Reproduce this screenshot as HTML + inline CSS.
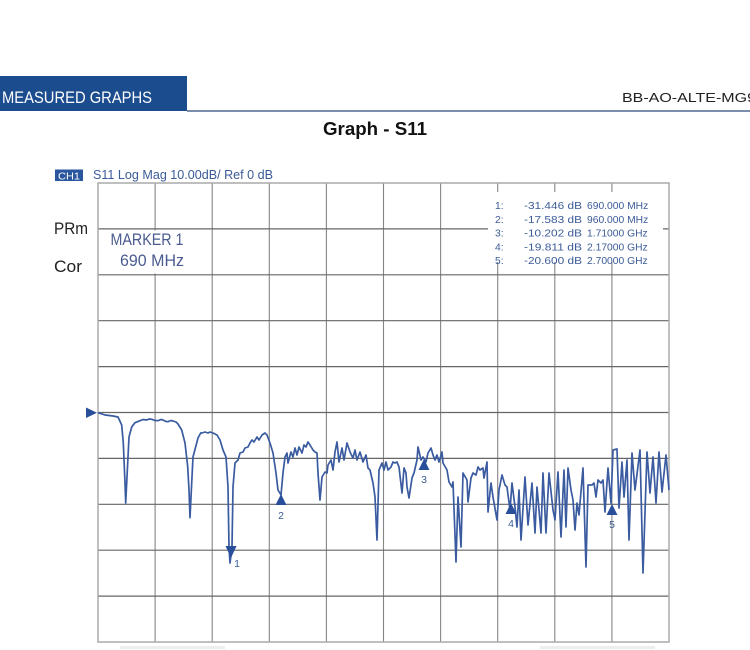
<!DOCTYPE html>
<html>
<head>
<meta charset="utf-8">
<style>
  html,body{margin:0;padding:0;background:#fff;}
  body{width:750px;height:650px;overflow:hidden;}
  svg{display:block;}
  text{font-family:"Liberation Sans",sans-serif;}
</style>
</head>
<body>
<svg width="750" height="650" viewBox="0 0 750 650" xmlns="http://www.w3.org/2000/svg">
  <rect x="0" y="0" width="750" height="650" fill="#fff"/>

  <!-- Header -->
  <rect x="0" y="76" width="187" height="35" fill="#1b4d8e"/>
  <line x1="187" y1="111" x2="750" y2="111" stroke="#2c4a7e" stroke-width="1.2"/>
  <text x="2" y="103" font-size="17" fill="#fff" textLength="150" lengthAdjust="spacingAndGlyphs">MEASURED GRAPHS</text>
  <text x="622" y="102" font-size="13" fill="#222" textLength="134" lengthAdjust="spacingAndGlyphs">BB-AO-ALTE-MG9</text>

  <!-- Title -->
  <text x="375" y="135" font-size="18" font-weight="bold" fill="#111" text-anchor="middle" textLength="104" lengthAdjust="spacingAndGlyphs">Graph - S11</text>

  <!-- CH1 label -->
  <rect x="55" y="169.5" width="28" height="11.5" fill="#2a56a0"/>
  <text x="69" y="179.3" font-size="10.5" fill="#fff" text-anchor="middle" textLength="22" lengthAdjust="spacingAndGlyphs">CH1</text>
  <text x="93" y="179" font-size="12.5" fill="#3b5b98" textLength="180" lengthAdjust="spacingAndGlyphs">S11 Log Mag 10.00dB/ Ref 0 dB</text>

  <!-- Grid -->
  <g stroke="#858585" stroke-width="1.1">
    <line x1="155.1" y1="183" x2="155.1" y2="642"/>
    <line x1="212.2" y1="183" x2="212.2" y2="642"/>
    <line x1="269.3" y1="183" x2="269.3" y2="642"/>
    <line x1="326.4" y1="183" x2="326.4" y2="642"/>
    <line x1="383.5" y1="183" x2="383.5" y2="642"/>
    <line x1="440.6" y1="183" x2="440.6" y2="642"/>
    <line x1="497.7" y1="183" x2="497.7" y2="642"/>
    <line x1="554.8" y1="183" x2="554.8" y2="642"/>
    <line x1="611.9" y1="183" x2="611.9" y2="642"/>
  </g>
  <g stroke="#666" stroke-width="1.2">
    <line x1="98" y1="228.9" x2="669" y2="228.9"/>
    <line x1="98" y1="274.8" x2="669" y2="274.8"/>
    <line x1="98" y1="320.7" x2="669" y2="320.7"/>
    <line x1="98" y1="366.6" x2="669" y2="366.6"/>
    <line x1="98" y1="412.5" x2="669" y2="412.5"/>
    <line x1="98" y1="458.4" x2="669" y2="458.4"/>
    <line x1="98" y1="504.3" x2="669" y2="504.3"/>
    <line x1="98" y1="550.2" x2="669" y2="550.2"/>
    <line x1="98" y1="596.1" x2="669" y2="596.1"/>
  </g>
  <rect x="98" y="183" width="571" height="459" fill="none" stroke="#aaaaaa" stroke-width="1.5"/>

  <!-- White boxes covering grid -->
  <rect x="100" y="230.5" width="98" height="43" fill="#fff"/>
  <rect x="488" y="192" width="175" height="70" fill="#fff"/>

  <!-- Left labels -->
  <text x="54" y="234" font-size="17" fill="#222" textLength="34" lengthAdjust="spacingAndGlyphs">PRm</text>
  <text x="54" y="272" font-size="17" fill="#222" textLength="28" lengthAdjust="spacingAndGlyphs">Cor</text>

  <!-- Marker 1 label -->
  <text x="110.5" y="245" font-size="16.5" fill="#4a5b8f" textLength="73" lengthAdjust="spacingAndGlyphs">MARKER 1</text>
  <text x="120" y="266" font-size="16.5" fill="#4a5b8f" textLength="64" lengthAdjust="spacingAndGlyphs">690 MHz</text>

  <!-- Marker table -->
  <g font-size="10.3" fill="#3b5b98">
    <text x="495" y="209">1:</text>
    <text x="524" y="209" textLength="58" lengthAdjust="spacingAndGlyphs">-31.446 dB</text>
    <text x="587" y="209">690.000 MHz</text>
    <text x="495" y="222.8">2:</text>
    <text x="524" y="222.8" textLength="58" lengthAdjust="spacingAndGlyphs">-17.583 dB</text>
    <text x="587" y="222.8">960.000 MHz</text>
    <text x="495" y="236.6">3:</text>
    <text x="524" y="236.6" textLength="58" lengthAdjust="spacingAndGlyphs">-10.202 dB</text>
    <text x="587" y="236.6">1.71000 GHz</text>
    <text x="495" y="250.4">4:</text>
    <text x="524" y="250.4" textLength="58" lengthAdjust="spacingAndGlyphs">-19.811 dB</text>
    <text x="587" y="250.4">2.17000 GHz</text>
    <text x="495" y="264.2">5:</text>
    <text x="524" y="264.2" textLength="58" lengthAdjust="spacingAndGlyphs">-20.600 dB</text>
    <text x="587" y="264.2">2.70000 GHz</text>
  </g>

  <!-- Reference triangle -->
  <polygon points="86,407.5 86,418 97,412.7" fill="#2a4f9a"/>

  <!-- Trace -->
  <polyline fill="none" stroke="#3a5ba0" stroke-width="1.7" stroke-linejoin="round" points="98,412.7 105,415 113,416 118,417 121.7,425 123.3,443 125,483 125.7,503 127,477 129,437 131.7,427 135,422.7 140,420.7 143,419.5 146.7,420 149,419 151.7,419.3 155,420.5 158,420.7 161,419.5 163,420 166,421.5 168,421.7 171,420.5 173,421 176,422 178,424 181.7,430 185,443 187.7,466.7 189,490 190,517.7 191.7,483 193,457 196.7,443 198,438 200.7,433 202,433 205,432 208,433 210,432 213,433 217,435 220,440 223,450 226,457 228,487 229,547 230,563 232,547 233,487 235,463 238,460 240,453 243,452 245,448 248,447 250,443 252,440 254,442 257,437 259,440 262,435 265,433 267,435 270,443 273,453 276,473 278,490 281,495 283,473 285,457 287,453 288,463 291,452 293,457 295,448 297,455 299,447 302,453 304,445 306,447 308,442 310,445 313,450 315,452 317,453 318,473 320,500 322,477 325,472 327,473 328,465 331,460 333,470 335,452 337,442 339,462 342,448 344,460 347,443 350,452 353,458 355,450 357,460 360,452 363,462 366,455 368,468 370,470 373,483 375,497 377,540 379,470 382,463 384,470 386,462 388,470 391,467 393,462 395,463 397,462 399,467 402,493 404,468 406,473 407,487 409,498 412,478 414,473 417,460 418,447 421,460 423,457 426,462 428,453 431,448 433,455 435,460 437,455 439,462 442,452 443,463 447,470 449,482 452,487 453,482 456,562 458,497 461,547 463,473 467,480 468,502 471,478 473,473 476,475 478,467 480,470 483,468 484,478 487,462 488,512 491,483 493,497 497,520 499,490 502,475 505,485 507,487 510,510 512,483 515,507 517,527 519,490 521,540 525,477 528,525 532,483 535,533 537,487 541,533 543,473 546,533 549,473 553,510 555,520 558,472 561,537 564,470 566,527 568,468 571,490 573,500 575,530 577,503 579,515 583,468 586,567 588,485 592,485 594,483 596,497 598,480 601,483 603,480 605,512 608,468 611,503 613,450 617,449 619,508 622,462 624,497 627,460 629,540 632,453 635,490 640,450 643,573 647,452 650,493 653,457 656,503 659,452 662,492 666,455 669,490"/>

  <!-- Markers -->
  <g fill="#2a4f9a">
    <polygon points="225.5,546 236.5,546 231,558"/>
    <polygon points="281,494 275.5,505 286.5,505"/>
    <polygon points="424,459 418.5,470 429.5,470"/>
    <polygon points="511,503 505.5,514 516.5,514"/>
    <polygon points="612,504 606.5,515 617.5,515"/>
  </g>
  <g font-size="10.5" fill="#3b5b98" text-anchor="middle">
    <text x="237" y="567">1</text>
    <text x="281" y="519">2</text>
    <text x="424" y="483">3</text>
    <text x="511" y="527">4</text>
    <text x="612" y="528">5</text>
  </g>

  <!-- faint footer marks -->
  <rect x="120" y="646" width="105" height="3" fill="#eeeeee"/>
  <rect x="540" y="646" width="115" height="3" fill="#eeeeee"/>
</svg>
</body>
</html>
